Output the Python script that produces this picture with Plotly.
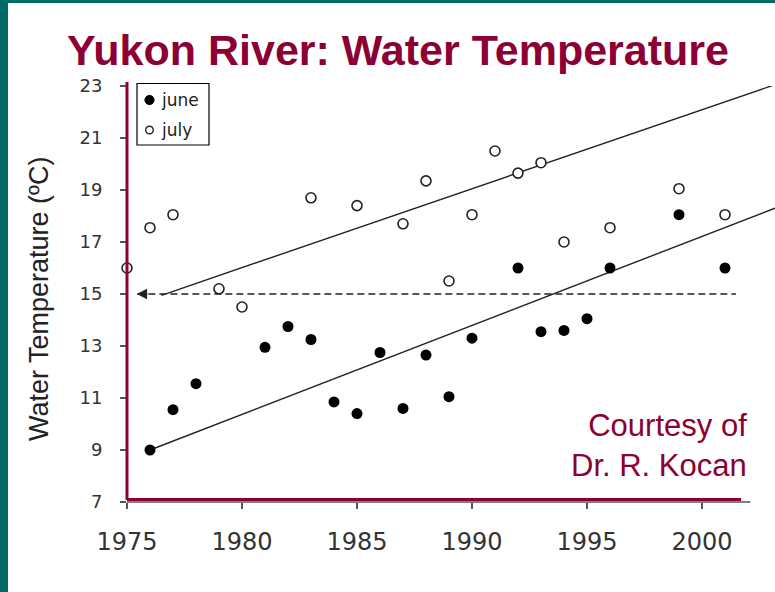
import plotly.graph_objects as go

# ---- data ----
june_years = [1976, 1977, 1978, 1981, 1982, 1983, 1984, 1985, 1986, 1987, 1988,
              1989, 1990, 1992, 1993, 1994, 1995, 1996, 1999, 2001]
june_temp = [9.0, 10.55, 11.55, 12.95, 13.75, 13.25, 10.85, 10.4, 12.75, 10.6, 12.65,
             11.05, 13.3, 16.0, 13.55, 13.6, 14.05, 16.0, 18.05, 16.0]

july_years = [1975, 1976, 1977, 1979, 1980, 1983, 1985, 1987, 1988, 1989, 1990,
              1991, 1992, 1993, 1994, 1996, 1999, 2001]
july_temp = [16.0, 17.55, 18.05, 15.2, 14.5, 18.7, 18.4, 17.7, 19.35, 15.5, 18.05,
             20.5, 19.65, 20.05, 17.0, 17.55, 19.05, 18.05]

june_trend_years = [1976, 2003.17]
june_trend_temp = [9.0, 18.3]
july_trend_years = [1976.5, 2003.17]
july_trend_temp = [14.95, 23.05]

ref_years = [1975.45, 2001.48]
ref_temp = [15.0, 15.0]

x_ticks = [1975, 1980, 1985, 1990, 1995, 2000]
y_ticks = [7, 9, 11, 13, 15, 17, 19, 21, 23]

MAROON = "#8c0034"
TEAL = "#006b66"
INK = "#222222"

fig = go.Figure()

fig.add_trace(go.Scatter(x=july_trend_years, y=july_trend_temp, mode="lines",
                         line=dict(color=INK, width=1.4), showlegend=False,
                         cliponaxis=False))
fig.add_trace(go.Scatter(x=june_trend_years, y=june_trend_temp, mode="lines",
                         line=dict(color=INK, width=1.4), showlegend=False,
                         cliponaxis=False))
fig.add_trace(go.Scatter(x=ref_years, y=ref_temp, mode="lines",
                         line=dict(color=INK, width=1.3, dash="7px,4px"),
                         showlegend=False))
fig.add_trace(go.Scatter(x=june_years, y=june_temp, mode="markers", name="june",
                         marker=dict(symbol="circle", size=11, color="black"),
                         showlegend=False, cliponaxis=False))
fig.add_trace(go.Scatter(x=july_years, y=july_temp, mode="markers", name="july",
                         marker=dict(symbol="circle", size=10, color="white",
                                     line=dict(color=INK, width=1.6)),
                         showlegend=False, cliponaxis=False))

# plot area: pixel 127..775 horizontally, 86..502 vertically
L, R, T, B = 127, 0, 86, 90
W, H = 775, 592
pw, ph = W - L - R, H - T - B

def px(xp):
    return (xp - L) / pw

def py(yp):
    return (H - B - yp) / ph

shapes = [
    # white page over teal frame
    dict(type="rect", xref="paper", yref="paper", x0=px(8), x1=px(790),
         y0=py(600), y1=py(3), fillcolor="white", line=dict(width=0), layer="below"),
    # gray x axis line
    dict(type="line", xref="x", yref="paper", x0=1975, x1=2002.1, y0=0, y1=0,
         line=dict(color="#555555", width=1.5)),
    # red x axis
    dict(type="line", xref="x", yref="paper", x0=1975, x1=2001.7, y0=py(499.5), y1=py(499.5),
         line=dict(color=MAROON, width=3)),
    # red y axis
    dict(type="line", xref="paper", yref="paper", x0=0, x1=0, y0=py(500), y1=py(82),
         line=dict(color=MAROON, width=3)),
    # legend box
    dict(type="rect", xref="paper", yref="paper", x0=px(137), x1=px(209),
         y0=py(145), y1=py(83.5), fillcolor="white", line=dict(color="black", width=1.2)),
    # legend markers
    dict(type="circle", xref="paper", yref="paper", xsizemode="pixel", ysizemode="pixel",
         xanchor=px(149.5), yanchor=py(100), x0=-4.6, x1=4.6, y0=-4.6, y1=4.6,
         fillcolor="black", line=dict(color="black", width=1)),
    dict(type="circle", xref="paper", yref="paper", xsizemode="pixel", ysizemode="pixel",
         xanchor=px(149.5), yanchor=py(130), x0=-3.8, x1=3.8, y0=-3.8, y1=3.8,
         fillcolor="white", line=dict(color=INK, width=1.4)),
]

annotations = [
    # arrow head of the dashed 15 °C line
    dict(x=1975.42, y=15, ax=1975.95, ay=15, xref="x", yref="y", axref="x", ayref="y",
         text="", showarrow=True, arrowhead=2, arrowsize=1.6, arrowwidth=1.3,
         arrowcolor=INK),
    # y-axis title
    dict(x=px(39), y=py(299), xref="paper", yref="paper", text="Water Temperature (ºC)",
         textangle=-90, showarrow=False, xanchor="center", yanchor="middle",
         font=dict(family="Liberation Sans, Arial, sans-serif", size=27, color=INK)),
    # legend texts
    dict(x=px(159), y=py(100), xref="paper", yref="paper", text="june", showarrow=False,
         xanchor="left", yanchor="middle",
         font=dict(family="DejaVu Sans, sans-serif", size=17, color=INK)),
    dict(x=px(159), y=py(130), xref="paper", yref="paper", text="july", showarrow=False,
         xanchor="left", yanchor="middle",
         font=dict(family="DejaVu Sans, sans-serif", size=17, color=INK)),
    # courtesy note
    dict(x=px(749), y=py(445), xref="paper", yref="paper",
         text="Courtesy of<br>Dr. R. Kocan", showarrow=False, xanchor="right",
         yanchor="middle", align="right",
         font=dict(family="Liberation Sans, Arial, sans-serif", size=31, color=MAROON)),
]

fig.update_layout(
    width=W, height=H,
    margin=dict(l=L, r=R, t=T, b=B, pad=0),
    paper_bgcolor=TEAL,
    plot_bgcolor="white",
    showlegend=False,
    hovermode=False,
    title=dict(text="<b>Yukon River: Water Temperature</b>", x=398 / W, xref="container",
               xanchor="center", y=1 - 50 / H, yref="container", yanchor="middle",
               font=dict(family="Liberation Sans, Arial, sans-serif", size=43, color=MAROON)),
    xaxis=dict(range=[1975, 1975 + pw / 23.0], tickvals=x_ticks, ticks="outside",
               ticklen=6, tickwidth=1.2, tickcolor="#555555", showgrid=False,
               zeroline=False, showline=False, ticklabelstandoff=12,
               tickfont=dict(family="DejaVu Sans, sans-serif", size=24, color="#333333")),
    yaxis=dict(range=[7, 23], tickvals=y_ticks, ticks="outside", ticklen=6,
               tickwidth=1.2, tickcolor="#555555", showgrid=False, zeroline=False,
               showline=False, ticklabelstandoff=14,
               tickfont=dict(family="DejaVu Sans, sans-serif", size=18, color="#333333")),
    shapes=shapes,
    annotations=annotations,
)

fig.write_html(
    "out.html",
    config={"displayModeBar": False, "staticPlot": True},
    post_script="document.body.style.margin='0';document.body.style.overflow='hidden';",
)
